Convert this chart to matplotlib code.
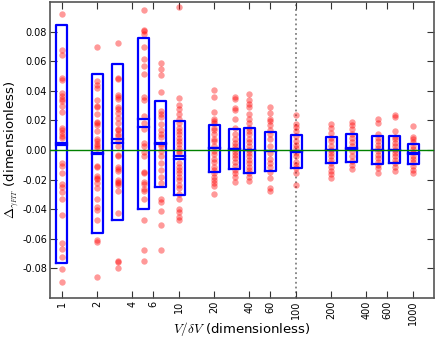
import numpy as np
import matplotlib
matplotlib.use('Agg')
import matplotlib.pyplot as plt

plt.rcParams['axes.unicode_minus'] = False
plt.rcParams['font.family'] = ['DejaVu Sans']
plt.rcParams['mathtext.fontset'] = 'cm'

# V/dV values of each column
x_values = [1, 2, 3, 5, 7, 10, 20, 30, 40, 60, 100, 200, 300, 500, 700, 1000]

# scattered runs for each column
d1 = [0.092, 0.0676, 0.0642, 0.0489, 0.047, 0.0384, 0.0363, 0.0345, 0.0333, 0.0299,
      0.026, 0.0151, 0.0132, 0.0112, 0.0094, 0.0082, -0.0089, -0.0107, -0.0153, -0.0231,
      -0.0249, -0.0283, -0.0333, -0.0438, -0.063, -0.0671, -0.0724, -0.0804, -0.0895]
d2 = [0.0694, 0.0463, 0.0441, 0.0418, 0.034, 0.0299, 0.0288, 0.0242, 0.0192, 0.018,
      0.0167, 0.0128, 0.0075, 0.0059, 0.0041, 0.0025, 0.0014, -0.0105, -0.0112, -0.0174,
      -0.0187, -0.0199, -0.0221, -0.026, -0.0333, -0.0386, -0.0404, -0.0473, -0.0607,
      -0.0619, -0.0861]
d3 = [0.0726, 0.0489, 0.0477, 0.0372, 0.0361, 0.0345, 0.0292, 0.0276, 0.0253, 0.0215,
      0.018, 0.0139, 0.0135, 0.0105, 0.0094, 0.0059, 0.0025, -0.0032, -0.0043, -0.0112,
      -0.013, -0.0139, -0.0203, -0.0215, -0.0226, -0.0237, -0.0276, -0.0425, -0.0747,
      -0.0758, -0.0797]
d5 = [0.0943, 0.0813, 0.0801, 0.0785, 0.0694, 0.0612, 0.0566, 0.0511, 0.0356, 0.0338,
      0.0231, 0.0185, 0.0139, 0.0048, 0.0025, -0.0016, -0.0043, -0.0151, -0.0158, -0.0215,
      -0.0233, -0.0265, -0.0279, -0.0333, -0.047, -0.0678, -0.0747]
d7 = [0.0589, 0.055, 0.0505, 0.0395, 0.0265, 0.0242, 0.0226, 0.0174, 0.0135, 0.0105,
      0.0087, 0.0041, 0.0025, -0.0009, -0.0039, -0.0089, -0.0135, -0.018, -0.0221, -0.0333,
      -0.0352, -0.0413, -0.0505, -0.0678]
d10 = [0.0966, 0.0349, 0.0304, 0.0276, 0.0242, 0.0212, 0.0185, 0.0151, 0.0128, 0.0105,
       0.0082, 0.0059, 0.0041, 0.0014, -0.0009, -0.0021, -0.0089, -0.0112, -0.0135, -0.0158,
       -0.018, -0.0203, -0.0237, -0.026, -0.0295, -0.0329, -0.0397, -0.042, -0.0454, -0.0473]
d20 = [0.0406, 0.0356, 0.0258, 0.0212, 0.0196, 0.018, 0.0151, 0.0132, 0.0105, 0.0075,
       0.0059, 0.0025, -0.0009, -0.0027, -0.0062, -0.0084, -0.0112, -0.0135, -0.0158,
       -0.0185, -0.0203, -0.0221, -0.0244, -0.0295]
d30 = [0.0361, 0.0345, 0.0281, 0.0269, 0.0212, 0.0151, 0.0105, 0.0075, 0.0048, 0.0025,
       0.0007, -0.0016, -0.0032, -0.0055, -0.0078, -0.0105, -0.0135, -0.0158, -0.018, -0.0215]
d40 = [0.0379, 0.0338, 0.0311, 0.0288, 0.0242, 0.0212, 0.018, 0.0151, 0.0128, 0.0105,
       0.0075, 0.0053, 0.0025, 0.0002, -0.0021, -0.0043, -0.0066, -0.0089, -0.0112, -0.0135,
       -0.0158, -0.018, -0.021]
d60 = [0.0288, 0.0247, 0.0212, 0.0196, 0.0167, 0.0135, 0.0105, 0.0071, 0.0025, -0.0021,
       -0.0062, -0.0089, -0.0112, -0.0146, -0.0192, -0.026, -0.0279]
d100 = [0.0237, 0.0174, 0.0155, 0.0128, 0.0094, 0.0059, 0.0037, 0.0014, -0.0021, -0.0043,
        -0.0078, -0.01, -0.0123, -0.0153, -0.0237]
d200 = [0.0174, 0.0151, 0.0116, 0.0082, 0.0059, 0.0025, 0.0002, -0.0021, -0.0043, -0.0066,
        -0.0089, -0.0112, -0.0139, -0.0162, -0.0192]
d300 = [0.019, 0.0167, 0.0139, 0.011, 0.0082, 0.0053, 0.0025, -0.0009, -0.0043, -0.0073,
        -0.01, -0.013]
d500 = [0.0208, 0.0185, 0.0105, 0.0082, 0.0059, 0.0037, 0.0014, -0.0009, -0.0032, -0.0055,
        -0.0078, -0.01, -0.0123, -0.0153]
d700 = [0.0235, 0.0224, 0.0128, 0.0087, 0.0071, 0.0048, 0.0025, 0.0002, -0.0021, -0.0043,
        -0.0066, -0.0089, -0.0112, -0.0139]
d1000 = [0.0162, 0.0089, 0.0071, 0.0053, 0.003, 0.0007, -0.0016, -0.0039, -0.0062, -0.0084,
         -0.0107, -0.0135, -0.0158]
scatter_vals = [d1, d2, d3, d5, d7, d10, d20, d30, d40, d60,
                d100, d200, d300, d500, d700, d1000]

# box edges and the two centre lines per column
box_top = [0.0842, 0.0516, 0.0584, 0.076, 0.0329, 0.0196, 0.0167, 0.0144, 0.0151, 0.0123,
           0.0098, 0.0087, 0.0105, 0.0094, 0.0094, 0.0041]
box_bottom = [-0.0763, -0.0564, -0.047, -0.0402, -0.0253, -0.0306, -0.0146, -0.013, -0.0153,
              -0.0139, -0.0123, -0.0089, -0.0084, -0.0094, -0.0089, -0.0096]
line_a = [0.0045, -0.002, 0.0071, 0.0208, 0.0044, -0.0043, 0.0016, 0.0008, -0.0001, -0.0008,
          -0.0009, -0.0001, 0.0012, 0.0003, 0.0003, -0.0023]
line_b = [0.0037, -0.003, 0.0048, 0.0155, 0.0038, -0.0062, 0.0012, 0.0006, -0.0003, -0.0010,
          -0.0013, -0.0003, 0.0010, 0.0001, 0.0001, -0.0027]

xtick_vals = [1, 2, 4, 6, 10, 20, 40, 60, 100, 200, 400, 600, 1000]

fig = plt.figure(figsize=(4.36, 3.38), dpi=100)
ax = fig.add_axes([50 / 436, 1 - 298 / 338, 384 / 436, 296 / 338])
ax.set_xscale('log')

half = 10 ** 0.047  # constant box width in log space

for x, vals in zip(x_values, scatter_vals):
    ax.plot([x] * len(vals), vals, 'o', color='red', alpha=0.4,
            markersize=4.6, markeredgewidth=0, zorder=2)

for x, top, bot, la, lb in zip(x_values, box_top, box_bottom, line_a, line_b):
    x0, x1 = x / half, x * half
    ax.plot([x0, x1, x1, x0, x0], [bot, bot, top, top, bot],
            color='blue', lw=1.6, zorder=3)
    ax.plot([x0, x1], [la, la], color='blue', lw=1.6, zorder=3)
    ax.plot([x0, x1], [lb, lb], color='blue', lw=1.6, zorder=3)

ax.axhline(0, color='green', lw=1, zorder=4)
ax.axvline(100, color='gray', lw=1.3, linestyle=':', zorder=1)

ax.set_xlim(0.79, 1510)
ax.set_ylim(-0.1, 0.1)
ax.set_yticks(np.arange(-0.08, 0.081, 0.02))
ax.set_yticklabels(['%.2f' % v for v in np.arange(-0.08, 0.081, 0.02)])
ax.set_xticks(xtick_vals)
ax.set_xticklabels([str(v) for v in xtick_vals], rotation=90)
ax.minorticks_off()
ax.tick_params(direction='in', length=5, top=True, right=True, labelsize=7,
               pad=2, color='#333333')
for s in ax.spines.values():
    s.set_color('#555555')
    s.set_linewidth(1.2)

ax.set_xlabel(r'$V/\delta V$ (dimensionless)', fontsize=9.5)
ax.xaxis.set_label_coords(0.5, -0.074)
ax.set_ylabel(r'$\Delta_{\gamma_{FIT}}$ (dimensionless)', fontsize=9.5, labelpad=1)

fig.savefig('out.png', dpi=100, facecolor='white')
